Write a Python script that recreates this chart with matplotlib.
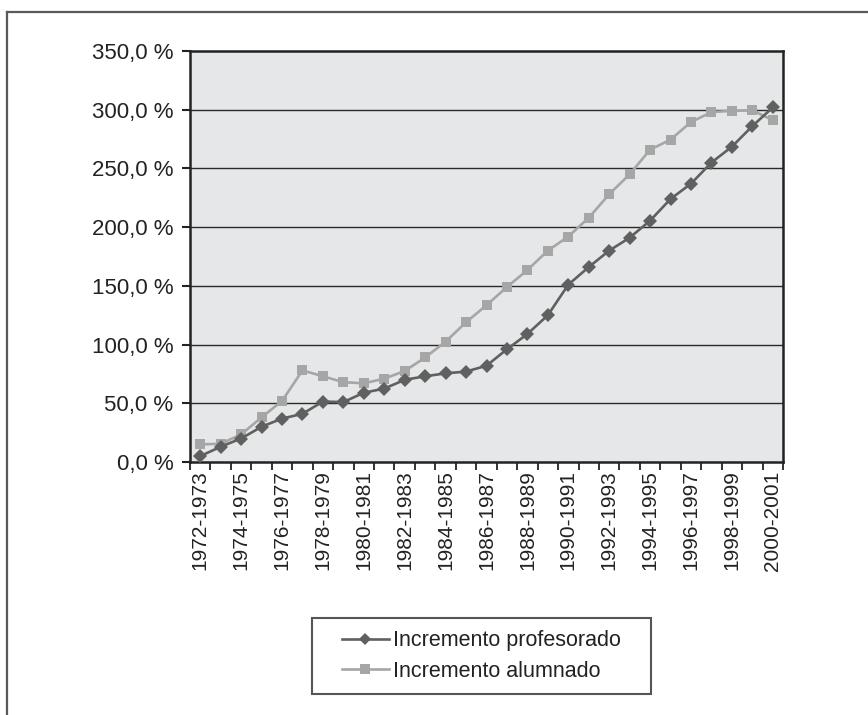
import matplotlib
matplotlib.use("Agg")
import matplotlib.pyplot as plt
from matplotlib.lines import Line2D
from matplotlib.patches import Rectangle
import numpy as np

plt.rcParams['font.family'] = ['Liberation Sans', 'DejaVu Sans']

categories = [f"{y}-{y+1}" for y in range(1972, 2001)]
profesorado = [5, 13, 20, 30, 37, 41, 51.5, 51, 59, 62.5, 70, 73, 75.5, 77,
               82, 96, 109, 125, 151, 166, 180, 191, 205.5, 224, 237, 255,
               268.5, 286, 302]
alumnado = [15, 15.5, 23.5, 38, 52, 78, 73, 68, 67, 71, 77.5, 89, 102.5, 119,
            133.5, 149, 163.5, 180, 192, 208, 228, 245, 266, 274.5, 289.5,
            298, 299, 299.5, 291]
yticks = [0, 50, 100, 150, 200, 250, 300, 350]
ytick_labels = ["0,0 %", "50,0 %", "100,0 %", "150,0 %", "200,0 %", "250,0 %", "300,0 %", "350,0 %"]
series_names = ["Incremento profesorado", "Incremento alumnado"]

W, H = 868, 715
fig = plt.figure(figsize=(W / 100, H / 100), dpi=100)

# outer frame (left and top edges)
fig.add_artist(Line2D([7 / W, 7 / W], [0, 1 - 12 / H], transform=fig.transFigure,
                      color='#5a5a5a', lw=1.6))
fig.add_artist(Line2D([7 / W, 1], [1 - 12 / H, 1 - 12 / H], transform=fig.transFigure,
                      color='#5a5a5a', lw=1.6))

left, right, top, bottom = 190, 783, 51, 462
ax = fig.add_axes([left / W, 1 - bottom / H, (right - left) / W, (bottom - top) / H])
ax.set_facecolor('#e6e7e8')

x = np.arange(len(categories))
ax.plot(x, alumnado, color='#a6a6a6', lw=1.9, marker='s', ms=7.5,
        markeredgewidth=0, label=series_names[1], zorder=3)
ax.plot(x, profesorado, color='#606060', lw=1.9, marker='D', ms=7,
        markeredgewidth=0, label=series_names[0], zorder=4)

ax.set_xlim(-0.5, len(categories) - 0.5)
ax.set_ylim(0, 350)
ax.set_yticks(yticks)
ax.set_yticklabels(ytick_labels, fontsize=16, color='#222222')
for yv in yticks[1:-1]:
    ax.axhline(yv, color='#2a2a2a', lw=1.0, zorder=1)

ax.set_xticks(x[::2])
ax.set_xticklabels(categories[::2], rotation=90, fontsize=15, color='#222222')
ax.tick_params(axis='x', which='major', length=0, pad=6)
ax.set_xticks(np.arange(-0.5, len(categories)), minor=True)
ax.tick_params(axis='x', which='minor', length=6, width=1.3, color='#222222', direction='out')
ax.tick_params(axis='y', length=6, width=1.5, color='#222222', direction='out', pad=6)

for s in ax.spines.values():
    s.set_color('#222222')
    s.set_linewidth(1.8)

# legend box
lx0, lx1, ly0, ly1 = 312, 651, 618, 694
fig.add_artist(Rectangle((lx0 / W, 1 - ly1 / H), (lx1 - lx0) / W, (ly1 - ly0) / H,
                         transform=fig.transFigure, fill=False, edgecolor='#555555', lw=1.5))
h1 = Line2D([], [], color='#606060', lw=1.9, marker='D', ms=6, markeredgewidth=0)
h2 = Line2D([], [], color='#a6a6a6', lw=1.9, marker='s', ms=6.5, markeredgewidth=0)
fig.legend([h1, h2], series_names, loc='center',
           bbox_to_anchor=((lx0 + lx1) / 2 / W, 1 - (ly0 + ly1) / 2 / H),
           frameon=False, fontsize=15.5, handlelength=2.2, handletextpad=0.2,
           labelspacing=0.42, borderpad=0, labelcolor='#222222')

fig.savefig('out.png', dpi=100)
